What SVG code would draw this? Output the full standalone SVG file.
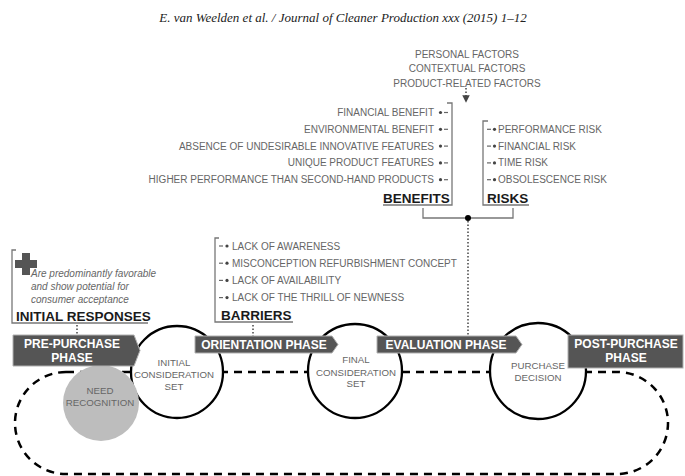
<svg xmlns="http://www.w3.org/2000/svg" width="685" height="476" viewBox="0 0 685 476">
<style>
text{font-family:"Liberation Sans",Arial,sans-serif}
.hdr{font-family:"Liberation Serif","Times New Roman",serif;font-style:italic;font-size:13px;fill:#222}
.fac{font-size:10px;fill:#666;text-anchor:middle}
.item{font-size:10px;fill:#666}
.itemR{font-size:10px;fill:#666;text-anchor:end}
.head{font-size:13.5px;font-weight:bold;fill:#1a1a1a}
.ital{font-size:10px;font-style:italic;fill:#666}
.br{fill:none;stroke:#777;stroke-width:1.3}
.mk{stroke:#666;stroke-width:1.2}
.dotm{fill:#444}
.dots{fill:none;stroke:#444;stroke-width:1.5;stroke-dasharray:1.5 2}
.phase{fill:#555;stroke:#b0b0b0;stroke-width:1}
.pt{font-size:12px;font-weight:bold;fill:#fff;text-anchor:middle}
.circ{fill:#fff;stroke:#000;stroke-width:2.3}
.ct{font-size:9.7px;fill:#666;text-anchor:middle}
.loop{fill:none;stroke:#000;stroke-width:2.5;stroke-dasharray:8 6}
</style>
<defs>
<marker id="ah" viewBox="0 0 6 6" refX="3" refY="3" markerWidth="5" markerHeight="5" orient="auto">
<path d="M0,0 L6,3 L0,6 Z" fill="#444"/>
</marker>
</defs>

<text class="hdr" x="343" y="22" text-anchor="middle">E. van Weelden et al. / Journal of Cleaner Production xxx (2015) 1–12</text>

<g id="connectors">
<path class="loop" d="M66 372 H617 A51 51 0 0 1 617 474 H66 A51 51 0 0 1 66 372 Z"/>
<path class="br" d="M423 208 V218 H513 V208"/>
<circle cx="468" cy="218" r="3" fill="#000"/>
<path class="dots" d="M468 221 V336"/>
<path class="dots" d="M466 88 V99" marker-end="url(#ah)"/>
<path class="dots" d="M253 325 V336"/>
<path class="dots" d="M77 325 V335"/>
</g>

<g id="factors">
<text class="fac" x="467" y="58">PERSONAL FACTORS</text>
<text class="fac" x="467" y="72">CONTEXTUAL FACTORS</text>
<text class="fac" x="467" y="86.5">PRODUCT-RELATED FACTORS</text>
</g>

<g id="benefits">
<path class="br" d="M447 103 H452 V205 H383"/>
<text class="itemR" x="434" y="116">FINANCIAL BENEFIT</text>
<text class="itemR" x="434" y="132.8">ENVIRONMENTAL BENEFIT</text>
<text class="itemR" x="434" y="149.6">ABSENCE OF UNDESIRABLE INNOVATIVE FEATURES</text>
<text class="itemR" x="434" y="166.4">UNIQUE PRODUCT FEATURES</text>
<text class="itemR" x="434" y="183.2">HIGHER PERFORMANCE THAN SECOND-HAND PRODUCTS</text>
<g>
<circle class="dotm" cx="440.5" cy="112.5" r="1.6"/><path class="mk" d="M444 112.5 H448"/>
<circle class="dotm" cx="440.5" cy="129.3" r="1.6"/><path class="mk" d="M444 129.3 H448"/>
<circle class="dotm" cx="440.5" cy="146.1" r="1.6"/><path class="mk" d="M444 146.1 H448"/>
<circle class="dotm" cx="440.5" cy="162.9" r="1.6"/><path class="mk" d="M444 162.9 H448"/>
<circle class="dotm" cx="440.5" cy="179.7" r="1.6"/><path class="mk" d="M444 179.7 H448"/>
</g>
<text class="head" x="383" y="203">BENEFITS</text>
</g>

<g id="risks">
<path class="br" d="M488 121 H483 V205 H529"/>
<text class="item" x="498" y="132.8">PERFORMANCE RISK</text>
<text class="item" x="498" y="149.6">FINANCIAL RISK</text>
<text class="item" x="498" y="166.4">TIME RISK</text>
<text class="item" x="498" y="183.2">OBSOLESCENCE RISK</text>
<g>
<path class="mk" d="M487 129.3 H491"/><circle class="dotm" cx="494.5" cy="129.3" r="1.6"/>
<path class="mk" d="M487 146.1 H491"/><circle class="dotm" cx="494.5" cy="146.1" r="1.6"/>
<path class="mk" d="M487 162.9 H491"/><circle class="dotm" cx="494.5" cy="162.9" r="1.6"/>
<path class="mk" d="M487 179.7 H491"/><circle class="dotm" cx="494.5" cy="179.7" r="1.6"/>
</g>
<text class="head" x="487" y="203">RISKS</text>
</g>

<g id="initial-responses">
<path class="br" d="M16 250 H12 V323 H148"/>
<path d="M22 253 H30 V260 H37 V268 H30 V275 H22 V268 H15 V260 H22 Z" fill="#555"/>
<text class="ital" x="31" y="277">Are predominantly favorable</text>
<text class="ital" x="31" y="290">and show potential for</text>
<text class="ital" x="31" y="303">consumer acceptance</text>
<text class="head" x="16" y="320.5">INITIAL RESPONSES</text>
</g>

<g id="barriers">
<path class="br" d="M219 238 H215 V322 H293"/>
<text class="item" x="232" y="249.6">LACK OF AWARENESS</text>
<text class="item" x="232" y="266.8">MISCONCEPTION REFURBISHMENT CONCEPT</text>
<text class="item" x="232" y="284">LACK OF AVAILABILITY</text>
<text class="item" x="232" y="301.2">LACK OF THE THRILL OF NEWNESS</text>
<g>
<path class="mk" d="M219 246 H223"/><circle class="dotm" cx="227" cy="246" r="1.6"/>
<path class="mk" d="M219 263.2 H223"/><circle class="dotm" cx="227" cy="263.2" r="1.6"/>
<path class="mk" d="M219 280.4 H223"/><circle class="dotm" cx="227" cy="280.4" r="1.6"/>
<path class="mk" d="M219 297.6 H223"/><circle class="dotm" cx="227" cy="297.6" r="1.6"/>
</g>
<text class="head" x="221" y="320">BARRIERS</text>
</g>

<g id="initial-consideration-set">
<circle class="circ" cx="177" cy="372" r="46"/>
<text class="ct" x="174" y="365.5">INITIAL</text>
<text class="ct" x="174" y="377.5">CONSIDERATION</text>
<text class="ct" x="174" y="389.5">SET</text>
</g>

<g id="need-recognition">
<circle cx="101" cy="403" r="38" fill="#bdbdbd"/>
<text class="ct" x="100" y="393.5" fill="#555">NEED</text>
<text class="ct" x="100" y="405.5">RECOGNITION</text>
</g>

<g id="final-consideration-set">
<circle class="circ" cx="355" cy="371" r="47"/>
<text class="ct" x="356" y="362.5">FINAL</text>
<text class="ct" x="356" y="375.5">CONSIDERATION</text>
<text class="ct" x="356" y="387">SET</text>
</g>

<g id="purchase-decision">
<circle class="circ" cx="538" cy="371" r="48"/>
<text class="ct" x="538" y="368.5">PURCHASE</text>
<text class="ct" x="538" y="380.5">DECISION</text>
</g>

<g id="pre-purchase-phase">
<polygon class="phase" points="13,335 134,335 140,350.5 134,366 13,366"/>
<text class="pt" x="72" y="347.5">PRE-PURCHASE</text>
<text class="pt" x="72" y="361.5">PHASE</text>
</g>

<g id="orientation-phase">
<polygon class="phase" points="195,336 332,336 338,344.5 332,353 195,353"/>
<text class="pt" x="264" y="349">ORIENTATION PHASE</text>
</g>

<g id="evaluation-phase">
<polygon class="phase" points="377,336 516,336 522,344.5 516,353 377,353"/>
<text class="pt" x="446" y="349">EVALUATION PHASE</text>
</g>

<g id="post-purchase-phase">
<rect class="phase" x="568" y="335" width="115" height="33"/>
<text class="pt" x="626" y="347.5">POST-PURCHASE</text>
<text class="pt" x="626" y="362">PHASE</text>
</g>
</svg>
